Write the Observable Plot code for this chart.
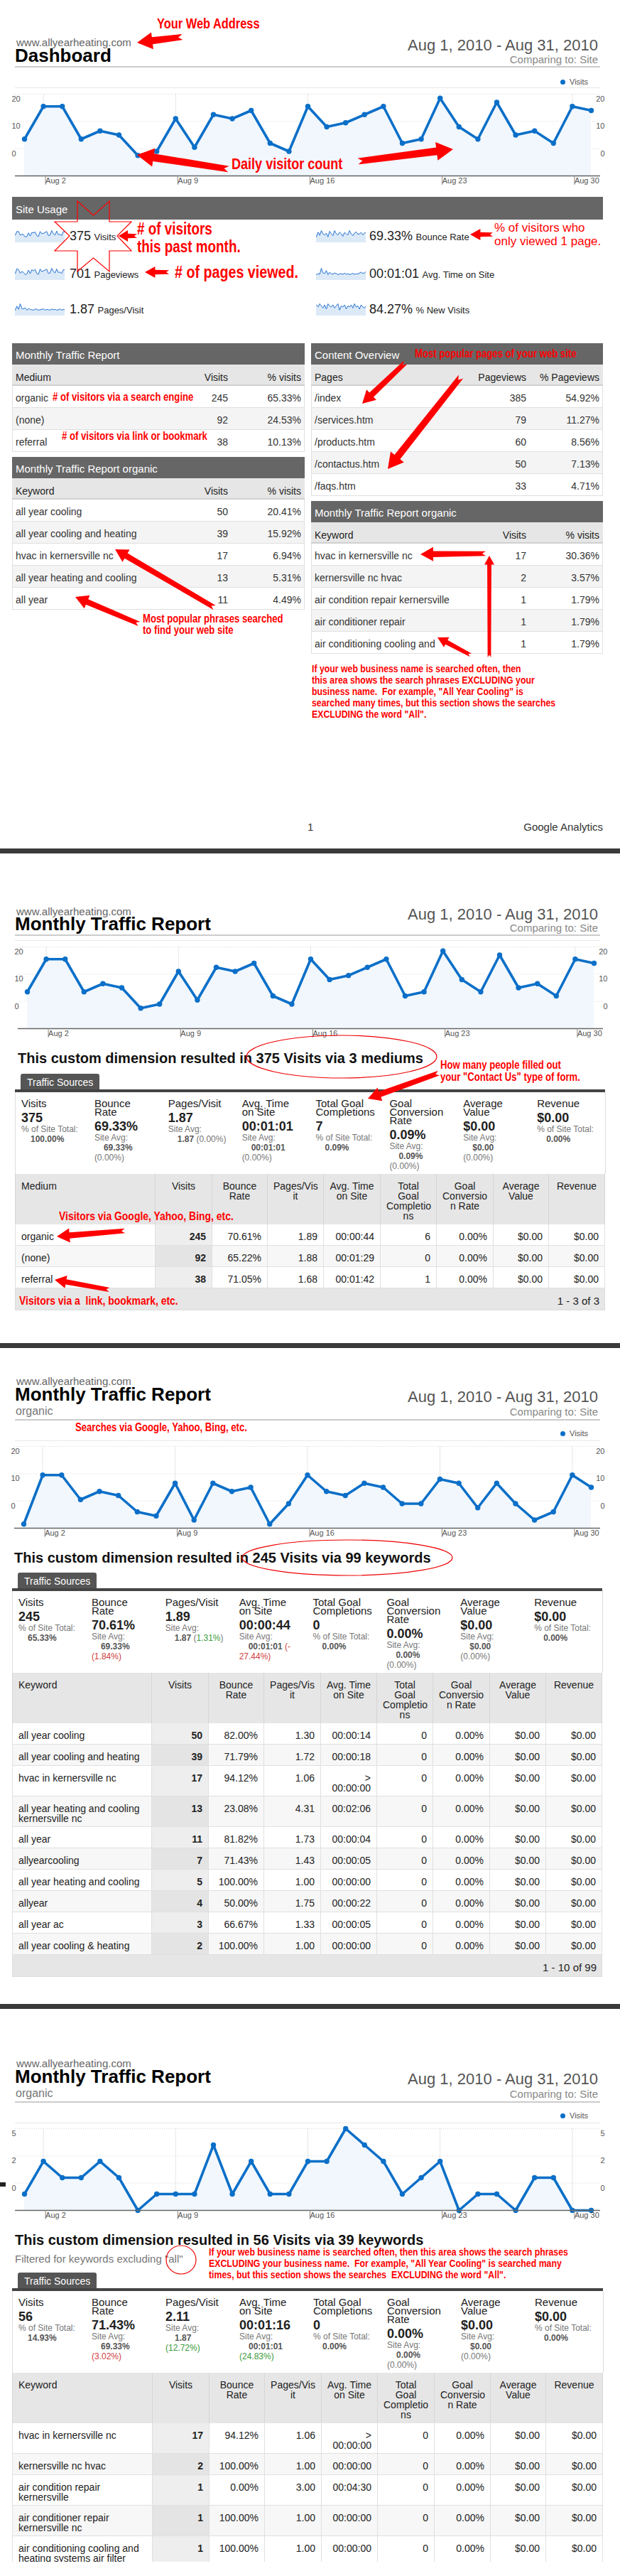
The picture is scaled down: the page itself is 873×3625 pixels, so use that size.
<!DOCTYPE html>
<html><head><meta charset="utf-8">
<script src="https://cdn.jsdelivr.net/npm/d3@7"></script>
<script src="https://cdn.jsdelivr.net/npm/@observablehq/plot@0.6"></script>
<style>
body{margin:0;background:#fff;font-family:"Liberation Sans",Arial,Helvetica,sans-serif;}
#page{position:relative;width:873px;height:3625px;overflow:hidden;background:#fff;}
.a{position:absolute;white-space:nowrap;}
.a svg{display:block;}
</style></head>
<body><div id="page"></div>
<script>
// ---------------- DATA ----------------
const days = [1,2,3,4,5,6,7,8,9,10,11,12,13,14,15,16,17,18,19,20,21,22,23,24,25,26,27,28,29,30,31];
const visitsAll = [9,17,17,9,11,10,5,6,14,7,15,14,16,8,6,17,12,13,15,17,8,9,19,12,9,18,10,11,8,17,16];
const visitsOrganic = [1,13,13,7,9,8,4,3,11,2,11,9,10,1,6,13,9,8,11,10,6,6,12,11,5,11,6,2,4,13,10];
const visitsFiltered = [1,3,2,2,3,2,0,1,1,1,4,1,3,1,1,3,3,5,4,3,1,2,3,0,1,1,0,2,2,0,0];
const xTickDays = [2,9,16,23,30];
const yTicksMain = [20, 40/3, 20/3];
const yLabelsMain = ["20","10","0"];
const yTicksFiltered = [5, 10/3, 5/3];
const yLabelsFiltered = ["5","2","0"];

const sparkPageviews = [14,34,30,15,22,18,9,12,28,13,30,25,31,14,10,33,22,25,28,32,14,16,36,22,16,33,18,20,14,30,28];
const sparkPagesPerVisit = [1.6,2.6,1.8,3.2,2.0,1.9,2.2,1.6,2.0,1.8,1.7,1.6,1.9,1.8,1.6,1.7,1.8,1.9,1.6,1.8,1.7,1.6,1.9,1.7,1.8,1.6,1.7,1.9,1.6,1.8,1.7];
const sparkBounce = [60,75,65,80,70,66,72,60,78,70,64,80,70,66,75,70,62,74,70,66,80,70,64,72,76,68,70,74,66,72,75];
const sparkAvgTime = [40,50,45,120,60,55,90,40,70,50,45,60,55,40,48,52,44,58,46,50,42,47,56,44,50,48,60,70,55,62,80];
const sparkNewVisits = [88,84,90,86,82,88,80,90,86,84,88,82,86,90,78,86,84,88,80,86,84,88,82,90,84,86,80,88,84,82,86];

const usageValues = ["375","701","1.87","69.33%","00:01:01","84.27%"];
const usageLabels = ["Visits","Pageviews","Pages/Visit","Bounce Rate","Avg. Time on Site","% New Visits"];

const mediumHeads = ["Medium","Visits","% visits"];
const mediumRows = [["organic","245","65.33%"],["(none)","92","24.53%"],["referral","38","10.13%"]];
const keywordHeads = ["Keyword","Visits","% visits"];
const keywordRows = [["all year cooling","50","20.41%"],["all year cooling and heating","39","15.92%"],["hvac in kernersville nc","17","6.94%"],["all year heating and cooling","13","5.31%"],["all year","11","4.49%"]];
const contentHeads = ["Pages","Pageviews","% Pageviews"];
const contentRows = [["/index","385","54.92%"],["/services.htm","79","11.27%"],["/products.htm","60","8.56%"],["/contactus.htm","50","7.13%"],["/faqs.htm","33","4.71%"]];
const filteredRows = [["hvac in kernersville nc","17","30.36%"],["kernersville nc hvac","2","3.57%"],["air condition repair kernersville","1","1.79%"],["air conditioner repair","1","1.79%"],["air conditioning cooling and","1","1.79%"]];

const p2Summary = [
 {title:"Visits", value:"375", sub:[[["% of Site Total:","l"]],[["100.00%","v"]]]},
 {title:"Bounce\nRate", value:"69.33%", sub:[[["Site Avg:","l"]],[["69.33%","v"]],[["(0.00%)","z"]]]},
 {title:"Pages/Visit", value:"1.87", sub:[[["Site Avg:","l"]],[["1.87","v"],[" (0.00%)","z"]]]},
 {title:"Avg. Time\non Site", value:"00:01:01", sub:[[["Site Avg:","l"]],[["00:01:01","v"]],[["(0.00%)","z"]]]},
 {title:"Total Goal\nCompletions", value:"7", sub:[[["% of Site Total:","l"]],[["0.09%","v"]]]},
 {title:"Goal\nConversion\nRate", value:"0.09%", sub:[[["Site Avg:","l"]],[["0.09%","v"]],[["(0.00%)","z"]]]},
 {title:"Average\nValue", value:"$0.00", sub:[[["Site Avg:","l"]],[["$0.00","v"]],[["(0.00%)","z"]]]},
 {title:"Revenue", value:"$0.00", sub:[[["% of Site Total:","l"]],[["0.00%","v"]]]}
];
const p3Summary = [
 {title:"Visits", value:"245", sub:[[["% of Site Total:","l"]],[["65.33%","v"]]]},
 {title:"Bounce\nRate", value:"70.61%", sub:[[["Site Avg:","l"]],[["69.33%","v"]],[["(1.84%)","n"]]]},
 {title:"Pages/Visit", value:"1.89", sub:[[["Site Avg:","l"]],[["1.87","v"],[" (","z"],["1.31%","p"],[")","z"]]]},
 {title:"Avg. Time\non Site", value:"00:00:44", sub:[[["Site Avg:","l"]],[["00:01:01","v"],[" (-","n"]],[["27.44%)","n"]]]},
 {title:"Total Goal\nCompletions", value:"0", sub:[[["% of Site Total:","l"]],[["0.00%","v"]]]},
 {title:"Goal\nConversion\nRate", value:"0.00%", sub:[[["Site Avg:","l"]],[["0.00%","v"]],[["(0.00%)","z"]]]},
 {title:"Average\nValue", value:"$0.00", sub:[[["Site Avg:","l"]],[["$0.00","v"]],[["(0.00%)","z"]]]},
 {title:"Revenue", value:"$0.00", sub:[[["% of Site Total:","l"]],[["0.00%","v"]]]}
];
const p4Summary = [
 {title:"Visits", value:"56", sub:[[["% of Site Total:","l"]],[["14.93%","v"]]]},
 {title:"Bounce\nRate", value:"71.43%", sub:[[["Site Avg:","l"]],[["69.33%","v"]],[["(3.02%)","n"]]]},
 {title:"Pages/Visit", value:"2.11", sub:[[["Site Avg:","l"]],[["1.87","v"]],[["(12.72%)","p"]]]},
 {title:"Avg. Time\non Site", value:"00:01:16", sub:[[["Site Avg:","l"]],[["00:01:01","v"]],[["(24.83%)","p"]]]},
 {title:"Total Goal\nCompletions", value:"0", sub:[[["% of Site Total:","l"]],[["0.00%","v"]]]},
 {title:"Goal\nConversion\nRate", value:"0.00%", sub:[[["Site Avg:","l"]],[["0.00%","v"]],[["(0.00%)","z"]]]},
 {title:"Average\nValue", value:"$0.00", sub:[[["Site Avg:","l"]],[["$0.00","v"]],[["(0.00%)","z"]]]},
 {title:"Revenue", value:"$0.00", sub:[[["% of Site Total:","l"]],[["0.00%","v"]]]}
];
const trafficHeadsTail = ["Visits","Bounce\nRate","Pages/Vis\nit","Avg. Time\non Site","Total\nGoal\nCompletio\nns","Goal\nConversio\nn Rate","Average\nValue","Revenue"];
const p2Rows = [
 ["organic","245","70.61%","1.89","00:00:44","6","0.00%","$0.00","$0.00"],
 ["(none)","92","65.22%","1.88","00:01:29","0","0.00%","$0.00","$0.00"],
 ["referral","38","71.05%","1.68","00:01:42","1","0.00%","$0.00","$0.00"]];
const p3Rows = [
 ["all year cooling","50","82.00%","1.30","00:00:14","0","0.00%","$0.00","$0.00"],
 ["all year cooling and heating","39","71.79%","1.72","00:00:18","0","0.00%","$0.00","$0.00"],
 ["hvac in kernersville nc","17","94.12%","1.06",">\n00:00:00","0","0.00%","$0.00","$0.00"],
 ["all year heating and cooling\nkernersville nc","13","23.08%","4.31","00:02:06","0","0.00%","$0.00","$0.00"],
 ["all year","11","81.82%","1.73","00:00:04","0","0.00%","$0.00","$0.00"],
 ["allyearcooling","7","71.43%","1.43","00:00:05","0","0.00%","$0.00","$0.00"],
 ["all year heating and cooling","5","100.00%","1.00","00:00:00","0","0.00%","$0.00","$0.00"],
 ["allyear","4","50.00%","1.75","00:00:22","0","0.00%","$0.00","$0.00"],
 ["all year ac","3","66.67%","1.33","00:00:05","0","0.00%","$0.00","$0.00"],
 ["all year cooling & heating","2","100.00%","1.00","00:00:00","0","0.00%","$0.00","$0.00"]];
const p4Rows = [
 ["hvac in kernersville nc","17","94.12%","1.06",">\n00:00:00","0","0.00%","$0.00","$0.00"],
 ["kernersville nc hvac","2","100.00%","1.00","00:00:00","0","0.00%","$0.00","$0.00"],
 ["air condition repair\nkernersville","1","0.00%","3.00","00:04:30","0","0.00%","$0.00","$0.00"],
 ["air conditioner repair\nkernersville nc","1","100.00%","1.00","00:00:00","0","0.00%","$0.00","$0.00"],
 ["air conditioning cooling and\nheating systems air filter","1","100.00%","1.00","00:00:00","0","0.00%","$0.00","$0.00"]];

// ---------------- HELPERS ----------------
const W = 873;
const FONT = '"Liberation Sans", Arial, Helvetica, sans-serif';
const BLUE = "#0b6fc8";
const RED = "#f00";
const page = document.getElementById("page");
function esc(s){return String(s).replace(/&/g,"&amp;").replace(/</g,"&lt;").replace(/>/g,"&gt;");}
function add(css, html){const d=document.createElement("div");d.className="a";d.style.cssText=css;if(html!=null)d.innerHTML=html;page.appendChild(d);return d;}
function rect(x,y,w,h,css=""){return add(`left:${x}px;top:${y}px;width:${w}px;height:${h}px;box-sizing:border-box;${css}`);}
function text(s,x,cy,o={}){
  const size=o.size||14, lh=o.lh||Math.round(size*1.15);
  let css=`top:${cy-lh/2}px;font-size:${size}px;line-height:${lh}px;color:${o.color||"#222"};font-weight:${o.bold?"bold":"normal"};white-space:pre;`;
  css += o.anchor==="end" ? `right:${W-x}px;text-align:right;` : `left:${x}px;`;
  if(o.narrow) css += `transform:scaleX(${o.narrow});transform-origin:${o.anchor==="end"?"100%":"0"} 0;`;
  return add(css, esc(s));
}
function note(s,x,cy,size,lh){return text(s,x,cy,{size,lh,bold:true,color:RED,narrow:0.82});}

function pageHeader(o){
  text("www.allyearheating.com",23,o.www,{size:15,color:"#666"});
  text(o.title,21,o.title_y,{size:26,bold:true,color:"#000"});
  if(o.sub) text(o.sub,22,o.sub_y,{size:16,color:"#777"});
  text("Aug 1, 2010 - Aug 31, 2010",842,o.date,{size:22,color:"#555",anchor:"end"});
  text("Comparing to: Site",842,o.comp,{size:15,color:"#888",anchor:"end"});
  rect(21,o.rule,824,2,"background:#ccc;");
  if(o.legend){
    rect(789,o.legend-3.5,7,7,`background:${BLUE};border-radius:50%;`);
    text("Visits",802,o.legend,{size:11,color:"#555"});
  }
  rect(21,o.light,824,1,"background:#e8e8e8;");
}

function visitsChart(vals, ticks, labels, top, ml, mr){
  const data = days.map((d,i)=>({date:new Date(Date.UTC(2010,7,d)), v:vals[i]}));
  const tickDates = xTickDays.map(d=>new Date(Date.UTC(2010,7,d)));
  const lab = new Map(ticks.map((t,i)=>[t,labels[i]]));
  const svg = Plot.plot({
    width:W, height:145, marginTop:8, marginBottom:22, marginLeft:ml, marginRight:mr,
    x:{type:"utc", domain:[data[0].date, data[data.length-1].date], label:null},
    y:{domain:[0, ticks[0]], label:null},
    style:{fontFamily:FONT, fontSize:"11px", color:"#555", background:"transparent", overflow:"visible"},
    marks:[
      Plot.ruleY(ticks,{stroke:"#d8d8d8", strokeDasharray:"1,2", insetLeft:-13, insetRight:-13}),
      Plot.ruleX(tickDates,{stroke:"#e6e6e6"}),
      Plot.areaY(data,{x:"date", y:"v", fill:"#f1f7fd"}),
      Plot.lineY(data,{x:"date", y:"v", stroke:BLUE, strokeWidth:3.6}),
      Plot.dot(data,{x:"date", y:"v", r:3.7, fill:BLUE}),
      Plot.ruleY([0],{stroke:"#666", strokeWidth:1.5, insetLeft:-13, insetRight:-13}),
      Plot.axisX(tickDates,{tickSize:13, tickPadding:-10, textAnchor:"start", dx:3, tickFormat:d3.utcFormat("%b %-d"), stroke:"#888", label:null}),
      Plot.axisY(ticks,{anchor:"left", tickSize:0, tickFormat:d=>lab.get(d), textAnchor:"start", dx:-9, dy:7, label:null}),
      Plot.axisY(ticks,{anchor:"right", tickSize:0, tickFormat:d=>lab.get(d), textAnchor:"end", dx:10, dy:7, label:null})
    ]
  });
  const h = add(`left:0;top:${top}px;width:${W}px;`);
  h.appendChild(svg);
}

function spark(vals,x,y){
  const data = vals.map((v,i)=>({i,v}));
  const lo=d3.min(vals), hi=d3.max(vals), base=lo-(hi-lo)*0.9;
  const svg = Plot.plot({width:70, height:19, margin:0, marginTop:2,
    x:{axis:null}, y:{axis:null, domain:[base,hi]},
    style:{background:"transparent"},
    marks:[Plot.areaY(data,{x:"i", y1:base, y2:"v", fill:"#dce9f7"}),
           Plot.lineY(data,{x:"i", y:"v", stroke:"#2a76d2", strokeWidth:1})]});
  const h = add(`left:${x}px;top:${y}px;`); h.appendChild(svg);
}

function gaTable(x,y,w,title,heads,rows,colW){
  rect(x,y,w,30,"background:#666;");
  text(title,x+5,y+16,{size:15,color:"#fff"});
  rect(x,y+30,w,30,"background:#e6e6e6;border-bottom:2px solid #d0d0d0;");
  let cx=x;
  heads.forEach((h,j)=>{ if(j===0) text(h,x+5,y+48,{size:14,color:"#222"}); else text(h,cx+colW[j]-5,y+48,{size:14,color:"#222",anchor:"end"}); cx+=colW[j]; });
  rows.forEach((r,i)=>{
    const ry=y+60+i*31;
    rect(x,ry,w,31,`background:${i%2?"#f4f4f4":"#fff"};border:1px solid #e0e0e0;border-top:none;`);
    let cx2=x;
    r.forEach((c,j)=>{ if(j===0) text(c,x+5,ry+17,{size:14,color:"#333"}); else text(c,cx2+colW[j]-5,ry+17,{size:14,color:"#333",anchor:"end"}); cx2+=colW[j]; });
  });
}

const kindStyle = {l:"color:#777;", v:"color:#555;font-weight:bold;", n:"color:#d04040;", p:"color:#3a9a3a;", z:"color:#777;"};
function traffic(T,x,colW,summary,firstHead,rows,footer){
  const w=d3.sum(colW);
  rect(x+8,T,111,22,"background:#555;border-radius:3px 3px 0 0;");
  text("Traffic Sources",x+17,T+12,{size:14,color:"#fff"});
  rect(x,T+22,w,4,"background:#444;");
  const sw=w/8;
  summary.forEach((s,j)=>{
    const subs = s.sub.map(line=>{
      const ind = line[0][1]==="v" ? "padding-left:13px;" : "";
      return `<div style="${ind}">`+line.map(([t,k])=>`<span style="${kindStyle[k]}">${esc(t)}</span>`).join("")+`</div>`;
    }).join("");
    const c = rect(x+j*sw,T+26,sw+1,115,`background:#fff;border-right:1px solid #ddd;${j===0?"border-left:1px solid #ddd;":""}padding:10px 0 0 8px;white-space:normal;`);
    c.innerHTML = `<div style="font-size:15px;line-height:12px;color:#222;white-space:pre">${esc(s.title)}</div>`+
      `<div style="font-size:18px;line-height:22px;font-weight:bold;margin-top:3px;color:#222">${esc(s.value)}</div>`+
      `<div style="margin-top:-2px;font-size:12px;line-height:14px;white-space:pre">${subs}</div>`;
  });
  const heads=[firstHead, ...trafficHeadsTail];
  const hy=T+141;
  let cx=x;
  heads.forEach((h,j)=>{
    const c=rect(cx,hy,colW[j],71,`background:#e6e6e6;border-right:1px solid #d6d6d6;${j===0?"border-left:1px solid #d6d6d6;":""}padding:10px 8px 0 8px;font-size:14px;line-height:14px;color:#222;white-space:pre;text-align:${j===0?"left":"center"};`);
    c.textContent=h; cx+=colW[j];
  });
  let ry=hy+71;
  rows.forEach((r,i)=>{
    const nl=d3.max(r,c=>String(c).split("\n").length);
    const h= nl>1 ? 30+13*(nl-1) : 30;
    let cx2=x;
    r.forEach((c,j)=>{
      const bg = j===1 ? (i%2?"#e4e4e4":"#eeeeee") : (i%2?"#f7f7f7":"#fff");
      const cell=rect(cx2,ry,colW[j],h,`background:${bg};border-right:1px solid #e0e0e0;border-bottom:1px solid #e0e0e0;${j===0?"border-left:1px solid #e0e0e0;":""}padding:10px 8px 0 8px;font-size:14px;line-height:14px;color:#222;white-space:pre;text-align:${j===0?"left":"right"};${j===1?"font-weight:bold;":""}`);
      cell.textContent=c; cx2+=colW[j];
    });
    ry+=h;
  });
  if(footer){
    rect(x,ry,w,31,"background:#e6e6e6;border:1px solid #ddd;border-top:none;");
    text(footer,x+w-8,ry+17,{size:15,color:"#222",anchor:"end"});
  }
}

// ---------------- PAGE 1 ----------------
pageHeader({www:59,title:"Dashboard",title_y:78,date:63,comp:83,rule:93,legend:115,light:123});
visitsChart(visitsAll,yTicksMain,yLabelsMain,124,34,41);

rect(17,277,832,32,"background:#666;");
text("Site Usage",22,294,{size:15,color:"#fff"});
const usageRowsY=[332,385,435];
const usageSparks=[visitsAll,sparkPageviews,sparkPagesPerVisit,sparkBounce,sparkAvgTime,sparkNewVisits];
usageValues.forEach((v,i)=>{
  const col=Math.floor(i/3), row=i%3;
  const cy=usageRowsY[row];
  spark(usageSparks[i], col?445:21, cy-10);
  add(`left:${col?520:98}px;top:${cy-12}px;line-height:24px;color:#222;`,
      `<span style="font-size:18px">${esc(v)}</span> <span style="font-size:13px">${esc(usageLabels[i])}</span>`);
});

gaTable(17,483,412,"Monthly Traffic Report",mediumHeads,mediumRows,[235,74,103]);
gaTable(17,643,412,"Monthly Traffic Report organic",keywordHeads,keywordRows,[235,74,103]);
gaTable(438,483,411,"Content Overview",contentHeads,contentRows,[234,74,103]);
gaTable(438,705,411,"Monthly Traffic Report organic",keywordHeads,filteredRows,[234,74,103]);

text("1",433,1163,{size:15,color:"#333"});
text("Google Analytics",849,1163,{size:15,color:"#333",anchor:"end"});
rect(0,1194,W,7,"background:#3a3a3a;");

// ---------------- PAGE 2 ----------------
pageHeader({www:1282,title:"Monthly Traffic Report",title_y:1300,date:1286,comp:1305,rule:1315,light:1323});
visitsChart(visitsAll,yTicksMain,yLabelsMain,1324,38,37);
text("This custom dimension resulted in 375 Visits via 3 mediums",25,1489,{size:20,bold:true,color:"#111"});
traffic(1511,21,[198,80,78,79,80,79,80,78,79],p2Summary,"Medium",p2Rows,"1 - 3 of 3");
rect(0,1890,W,7,"background:#3a3a3a;");

// ---------------- PAGE 3 ----------------
pageHeader({www:1943,title:"Monthly Traffic Report",title_y:1962,sub:"organic",sub_y:1986,date:1965,comp:1986,rule:1997,legend:2017,light:2027});
visitsChart(visitsOrganic,yTicksMain,yLabelsMain,2027,33,41);
text("This custom dimension resulted in 245 Visits via 99 keywords",20,2192,{size:20,bold:true,color:"#111"});
traffic(2213,17,[197,80,78,80,79,79,80,79,79],p3Summary,"Keyword",p3Rows,"1 - 10 of 99");
rect(0,2820,W,7,"background:#3a3a3a;");

// ---------------- PAGE 4 ----------------
pageHeader({www:2903,title:"Monthly Traffic Report",title_y:2922,sub:"organic",sub_y:2946,date:2925,comp:2946,rule:2957,legend:2977,light:2987});
visitsChart(visitsFiltered,yTicksFiltered,yLabelsFiltered,2987,34,41);
text("This custom dimension resulted in 56 Visits via 39 keywords",21,3152,{size:20,bold:true,color:"#111"});
text('Filtered for keywords excluding "all"',21,3178,{size:15,color:"#777"});
traffic(3198,17,[198,80,78,80,79,80,79,78,80],p4Summary,"Keyword",p4Rows,null);
rect(0,3605,W,20,"background:#fff;");
rect(0,3071,8,6,"background:#222;");

// ---------------- ANNOTATIONS ----------------
note("Your Web Address",221,33,20);
note("Daily visitor count",326,230,22);
note("# of visitors\nthis past month.",193,322,23,25);
note("# of pages viewed.",246,383,24);
text("% of visitors who\nonly viewed 1 page.",696,320,{size:17,lh:19,color:RED});
note("# of visitors via a search engine",74,559,16);
note("# of visitors via link or bookmark",87,614,16);
note("Most popular pages of your web site",584,498,16);
note("Most popular phrases searched\nto find your web site",201,871,16,16);
note('If your web business name is searched often, then\nthis area shows the search phrases EXCLUDING your\nbusiness name.  For example, "All Year Cooling" is\nsearched many times, but this section shows the searches\nEXCLUDING the word "All".',439,941,15,16);
note('How many people filled out\nyour "Contact Us" type of form.',620,1498,16,17);
note("Visitors via Google, Yahoo, Bing, etc.",83,1712,17);
note("Visitors via a  link, bookmark, etc.",27,1831,17);
note("Searches via Google, Yahoo, Bing, etc.",106,2009,16);
note('If your web business name is searched often, then this area shows the search phrases\nEXCLUDING your business name.  For example, "All Year Cooling" is searched many\ntimes, but this section shows the searches  EXCLUDING the word "All".',294,3169,15,16);

const ov = d3.select(page).append("svg").attr("class","a")
  .attr("width",W).attr("height",3625).style("left","0px").style("top","0px").style("pointer-events","none");
function arrowPts(x1,y1,x2,y2,hw){
  const dx=x2-x1, dy=y2-y1, L=Math.hypot(dx,dy), ux=dx/L, uy=dy/L, nx=-uy, ny=ux;
  const hl=Math.min(L*0.5,hw*1.8), sw=hw*0.42, bx=x2-ux*hl, by=y2-uy*hl, notch=hw*0.5;
  return [[x1+nx*sw*0.8,y1+ny*sw*0.8],[bx+nx*sw,by+ny*sw],[bx+nx*hw,by+ny*hw],[x2,y2],[bx-nx*hw,by-ny*hw],[bx-nx*sw,by-ny*sw],[x1-nx*sw*0.8,y1-ny*sw*0.8],[x1+ux*notch,y1+uy*notch]];
}
const arrows = [
  [257,52,193,60,12],[322,238,193,218,13],[504,227,638,210,13],
  [193,332,167,332,8],[238,383,204,383,8],[694,330,662,330,8],
  [571,510,510,568,10],[649,530,546,660,12],[302,855,162,773,10],[196,878,106,840,10],
  [684,779,592,780,10],[689,925,689,782,7],[663,922,616,897,8],
  [618,1510,518,1546,10],[176,1732,80,1740,10],[154,1815,77,1801,9]
];
arrows.forEach(a=>ov.append("polygon").attr("points",arrowPts(...a).map(p=>p.join(",")).join(" ")).attr("fill",RED));
const star=[[109,283],[131.5,303],[154,283],[154,312],[185,312],[165,332],[185,353],[154,353],[154,382],[131.5,363],[109,382],[109,353],[77,353],[98,332],[77,312],[109,312]];
ov.append("polygon").attr("points",star.map(p=>p.join(",")).join(" ")).attr("fill","none").attr("stroke",RED).attr("stroke-width",1.2);
[[481,1487,134,30],[489,2192,148,25],[255,3180,21,20]].forEach(([cx,cy,rx,ry])=>
  ov.append("ellipse").attr("cx",cx).attr("cy",cy).attr("rx",rx).attr("ry",ry).attr("fill","none").attr("stroke","#e00").attr("stroke-width",1.2));
</script>
</body></html>
